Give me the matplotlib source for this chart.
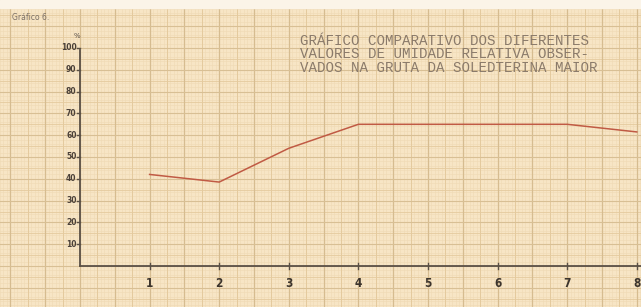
import matplotlib.pyplot as plt
import numpy as np

# dados
pontos = [1, 2, 3, 4, 5, 6, 7, 8]
umidade = [42, 38.5, 54, 65, 65, 65, 65, 61.5]
y_ticks = [10, 20, 30, 40, 50, 60, 70, 80, 90, 100]
x_ticks = [1, 2, 3, 4, 5, 6, 7, 8]
titulo = ["GRÁFICO COMPARATIVO DOS DIFERENTES",
          "VALORES DE UMIDADE RELATIVA OBSER-",
          "VADOS NA GRUTA DA SOLEDTERINA MAIOR"]

W, H = 641, 307
# posição da origem em pixels e escala
x0_px, y0_px = 80, 266
px_x, px_y = 69.6, 2.18

fig = plt.figure(figsize=(W / 100, H / 100), dpi=100)
fig.patch.set_facecolor('#f7e5c5')
ax = fig.add_axes([0, 0, 1, 1])
ax.set_facecolor('#f7e5c5')
ax.set_xlim(-x0_px / px_x, (W - x0_px) / px_x)
ax.set_ylim(-(H - y0_px) / px_y, y0_px / px_y)
ax.axis('off')

xmin, xmax = ax.get_xlim()
ymin, ymax = ax.get_ylim()

# papel milimetrado
for v in np.arange(np.floor(xmin), xmax, 0.05):
    ax.axvline(v, color='#efdab4', lw=0.4, zorder=0)
for v in np.arange(np.floor(ymin / 10) * 10, ymax, 2):
    ax.axhline(v, color='#efdab4', lw=0.4, zorder=0)
for v in np.arange(np.floor(xmin), xmax, 0.25):
    ax.axvline(v, color='#e4ca9e', lw=0.7, zorder=0)
for v in np.arange(np.floor(ymin / 10) * 10, ymax, 5):
    ax.axhline(v, color='#e4ca9e', lw=0.6, zorder=0)
for v in np.arange(np.floor(xmin), xmax, 0.5):
    ax.axvline(v, color='#d6bc90', lw=0.9, zorder=0)
for v in np.arange(np.floor(ymin / 10) * 10, ymax, 10):
    ax.axhline(v, color='#d8bf94', lw=0.8, zorder=0)

# borda clara do papel
ax.axhspan(ymax - 8 / px_y, ymax, color='#fbf4e8', zorder=0.5)

# eixos
ax.plot([0, 0], [0, 99], color='#5a5046', lw=1.3, zorder=2)
ax.plot([0, xmax], [0, 0], color='#5a5046', lw=1.3, zorder=2)
for t in x_ticks:
    ax.plot([t, t], [-1.5, 1.5], color='#5a5046', lw=1.0, zorder=2)
    ax.text(t, -7.8, str(t), ha='center', va='center', fontsize=8.5,
            fontweight='bold', color='#3c342c', family='DejaVu Sans',
            fontstretch='condensed')
for t in y_ticks:
    ax.plot([-0.04, 0], [t, t], color='#5a5046', lw=1.0, zorder=2)
    ax.text(-0.05, t, str(t), ha='right', va='center', fontsize=5.5,
            fontweight='bold', color='#4a4038')
ax.text(-0.04, 105.5, '%', ha='center', va='center', fontsize=5,
        color='#5a5048')

# curva
ax.plot(pontos, umidade, color='#c05a44', lw=1.1, zorder=3)

# textos
fig.text(12 / W, 1 - 17 / H, 'Gráfico 6.', fontsize=5.5, color='#7a6e64',
         ha='left', va='center')
for i, linha in enumerate(titulo):
    fig.text(300 / W, 1 - (41 + i * 13.5) / H, linha, fontsize=10.2,
             family='Liberation Mono', color='#8a7a6a', ha='left',
             va='center')

fig.savefig('out.png', dpi=100, facecolor=fig.get_facecolor())
